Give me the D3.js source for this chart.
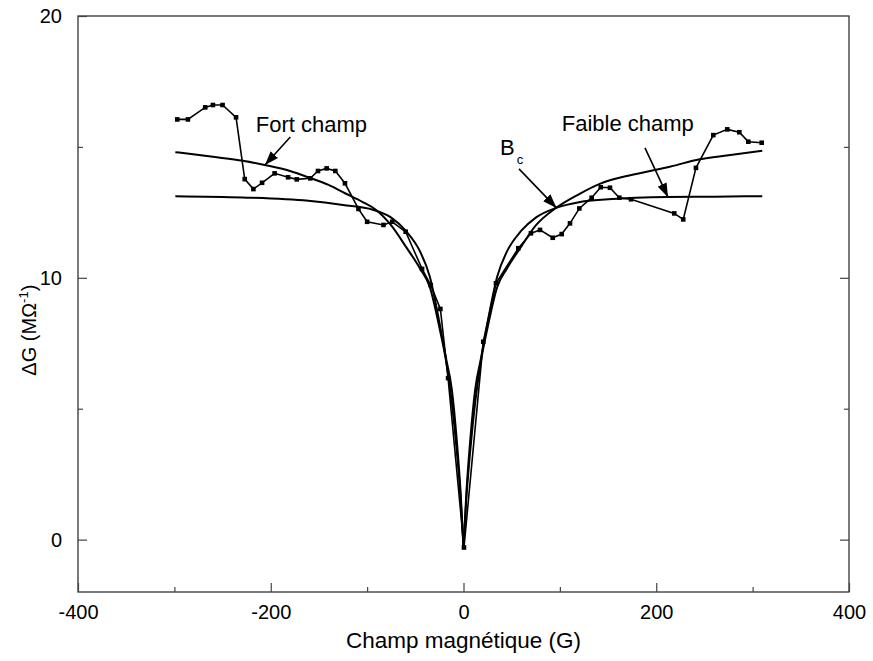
<!DOCTYPE html>
<html>
<head>
<meta charset="utf-8">
<script src="https://cdn.jsdelivr.net/npm/d3@7"></script>
<style>
  html, body { margin: 0; padding: 0; background: #fff; }
  svg { display: block; }
  text, tspan { font-family: "Liberation Sans", Arial, sans-serif; fill: #000; }
</style>
</head>
<body>
<svg id="chart" width="873" height="661"></svg>
<script>
// ---- Data ----
const xMajorTicks = [-400, -200, 0, 200, 400];
const xMinorTicks = [-300, -100, 100, 300];
const yMajorTicks = [0, 10, 20];
const yMinorTicks = [5, 15];

// Measured points (square markers joined by a line)
const measX = [-297, -286, -268, -260, -250, -236, -227, -218, -209, -196, -182, -173, -159, -151, -142, -133, -123, -109, -100, -83, -74, -60, -43, -34, -24, -16, 0.5,
               20.5, 33.7, 56.9, 70, 79.4, 92.6, 101.9, 110.5, 120.2, 133, 142.4, 152, 161.7, 173.8, 218.7, 228, 241.2, 259.2, 273.7, 286.2, 295.5, 309.4];
const measY = [16.05, 16.05, 16.51, 16.6, 16.6, 16.13, 13.77, 13.39, 13.63, 13.99, 13.84, 13.76, 13.8, 14.08, 14.18, 14.08, 13.61, 12.63, 12.14, 12.02, 12.14, 11.76, 10.34, 9.72, 8.81, 6.17, -0.3,
               7.56, 9.79, 11.13, 11.7, 11.83, 11.53, 11.67, 12.08, 12.65, 13.06, 13.46, 13.44, 13.06, 13.0, 12.46, 12.23, 14.2, 15.45, 15.67, 15.56, 15.2, 15.16];

// "Fort champ" fit (high field)
const fortX = [-299, -260, -229, -205, -180, -161, -140, -123, -105, -91, -75, -60, -45, -35, -25, -18, -12, -7, -3, 0,
               3, 7, 12, 18, 25, 35, 45, 60, 75, 96, 120, 142, 165, 190, 215, 245, 275, 310];
const fortY = [14.8, 14.62, 14.47, 14.3, 14.08, 13.84, 13.55, 13.23, 12.9, 12.6, 12.0, 11.2, 10.35, 9.65, 8.1, 6.8, 5.2, 3.4, 1.6, -0.3,
               1.6, 3.4, 5.2, 6.8, 8.1, 9.65, 10.35, 11.2, 12.0, 12.67, 13.2, 13.6, 13.85, 14.05, 14.25, 14.53, 14.68, 14.85];

// "Faible champ" fit (low field)
const faibleX = [-299, -229, -161, -125, -94, -75, -60, -45, -35, -25, -18, -12, -7, -3, 0,
                 3, 7, 12, 18, 25, 35, 45, 60, 75, 96, 121, 150, 212, 260, 310];
const faibleY = [13.12, 13.07, 12.94, 12.78, 12.6, 12.3, 11.8, 11.0, 10.05, 8.3, 6.9, 5.7, 3.8, 1.8, -0.3,
                 1.8, 3.8, 5.7, 6.9, 8.3, 10.05, 11.0, 11.8, 12.3, 12.67, 12.9, 13.0, 13.09, 13.1, 13.12];

// Annotations: label text, label anchor (data units), arrow start -> arrow tip (data units)
const annotLabels = ["Fort champ", "Faible champ"];
const annotTextX = [-215.5, 101.9];
const annotTextY = [15.58, 15.61];
const arrowFromX = [-179.7, 188.3, 57.6];
const arrowFromY = [15.38, 14.96, 14.16];
const arrowToX = [-206, 212.2, 96.5];
const arrowToY = [14.31, 13.08, 12.67];
const bcX = 37.9, bcY = 14.71;

// ---- Chart ----
const svg = d3.select("#chart");
const mLeft = 78, mRight = 849, mTop = 16, mBottom = 592;
const x = d3.scaleLinear().domain([-400, 400]).range([mLeft, mRight]);
const y = d3.scaleLinear().domain([-2, 20]).range([mBottom, mTop]);

// frame
svg.append("rect")
  .attr("x", mLeft).attr("y", mTop)
  .attr("width", mRight - mLeft).attr("height", mBottom - mTop)
  .attr("fill", "none").attr("stroke", "#222").attr("stroke-width", 1.2);

function styleAxis(g) {
  g.select(".domain").remove();
  g.selectAll(".tick line").attr("stroke", "#444").attr("stroke-width", 1.2);
  g.selectAll(".tick text").style("font-size", "20px").attr("fill", "#000");
}
const plainFmt = d => String(d);

svg.append("g").attr("transform", `translate(0,${mBottom})`)
  .call(d3.axisBottom(x).tickValues(xMajorTicks).tickSize(-9).tickPadding(13).tickFormat(plainFmt))
  .call(styleAxis);
svg.append("g").attr("transform", `translate(0,${mBottom})`)
  .call(d3.axisBottom(x).tickValues(xMinorTicks).tickSize(-5).tickFormat(""))
  .call(styleAxis);
svg.append("g").attr("transform", `translate(${mLeft},0)`)
  .call(d3.axisLeft(y).tickValues(yMajorTicks).tickSize(-9).tickPadding(16).tickFormat(plainFmt))
  .call(styleAxis);
svg.append("g").attr("transform", `translate(${mLeft},0)`)
  .call(d3.axisLeft(y).tickValues(yMinorTicks).tickSize(-5).tickFormat(""))
  .call(styleAxis);
svg.append("g").attr("transform", `translate(${mRight},0)`)
  .call(d3.axisRight(y).tickValues(yMajorTicks.filter(v => v < 20)).tickSize(-9).tickFormat(""))
  .call(styleAxis);
svg.append("g").attr("transform", `translate(${mRight},0)`)
  .call(d3.axisRight(y).tickValues(yMinorTicks).tickSize(-5).tickFormat(""))
  .call(styleAxis);

// axis titles
svg.append("text")
  .attr("x", x(0)).attr("y", 648)
  .attr("text-anchor", "middle")
  .style("font-size", "22.5px")
  .text("Champ magnétique (G)");

const yt = svg.append("text")
  .attr("transform", `translate(36,${y(8)}) rotate(-90)`)
  .attr("text-anchor", "middle")
  .style("font-size", "20px");
yt.append("tspan").attr("fill", "#000").text("\u0394G (M\u03A9");
yt.append("tspan").attr("fill", "#000").attr("dy", -8).style("font-size", "13px").text("-1");
yt.append("tspan").attr("fill", "#000").attr("dy", 8).text(")");

// fitted curves, each drawn as two branches meeting at B = 0
const lineGen = d3.line().x(d => x(d[0])).y(d => y(d[1])).curve(d3.curveMonotoneX);
function drawFit(xs, ys) {
  const pts = xs.map((v, i) => [v, ys[i]]);
  const neg = pts.filter(p => p[0] <= 0);
  const pos = pts.filter(p => p[0] >= 0);
  [neg, pos].forEach(branch => {
    svg.append("path").datum(branch)
      .attr("d", lineGen)
      .attr("fill", "none").attr("stroke", "#000").attr("stroke-width", 2);
  });
}
drawFit(fortX, fortY);
drawFit(faibleX, faibleY);

// measured series
const meas = measX.map((v, i) => [v, measY[i]]);
svg.append("path").datum(meas)
  .attr("d", d3.line().x(d => x(d[0])).y(d => y(d[1])))
  .attr("fill", "none").attr("stroke", "#000").attr("stroke-width", 1.6);
svg.append("g").selectAll("rect").data(meas).join("rect")
  .attr("x", d => x(d[0]) - 2.3).attr("y", d => y(d[1]) - 2.3)
  .attr("width", 4.6).attr("height", 4.6).attr("fill", "#000");

// arrows
svg.append("defs").append("marker")
  .attr("id", "ah").attr("viewBox", "0 0 14 10")
  .attr("refX", 14).attr("refY", 5)
  .attr("markerWidth", 14).attr("markerHeight", 10)
  .attr("markerUnits", "userSpaceOnUse")
  .attr("orient", "auto")
  .append("path").attr("d", "M0,0 L14,5 L0,10 Z").attr("fill", "#000");

arrowFromX.forEach((fx, i) => {
  svg.append("line")
    .attr("x1", x(fx)).attr("y1", y(arrowFromY[i]))
    .attr("x2", x(arrowToX[i])).attr("y2", y(arrowToY[i]))
    .attr("stroke", "#000").attr("stroke-width", 1.6)
    .attr("marker-end", "url(#ah)");
});

annotLabels.forEach((t, i) => {
  svg.append("text")
    .attr("x", x(annotTextX[i])).attr("y", y(annotTextY[i]))
    .style("font-size", "22px")
    .text(t);
});

const bc = svg.append("text")
  .attr("x", x(bcX)).attr("y", y(bcY))
  .style("font-size", "22px");
bc.append("tspan").attr("fill", "#000").text("B");
bc.append("tspan").attr("fill", "#000").attr("dx", 2).attr("dy", 9).style("font-size", "13px").text("c");
</script>
</body>
</html>
